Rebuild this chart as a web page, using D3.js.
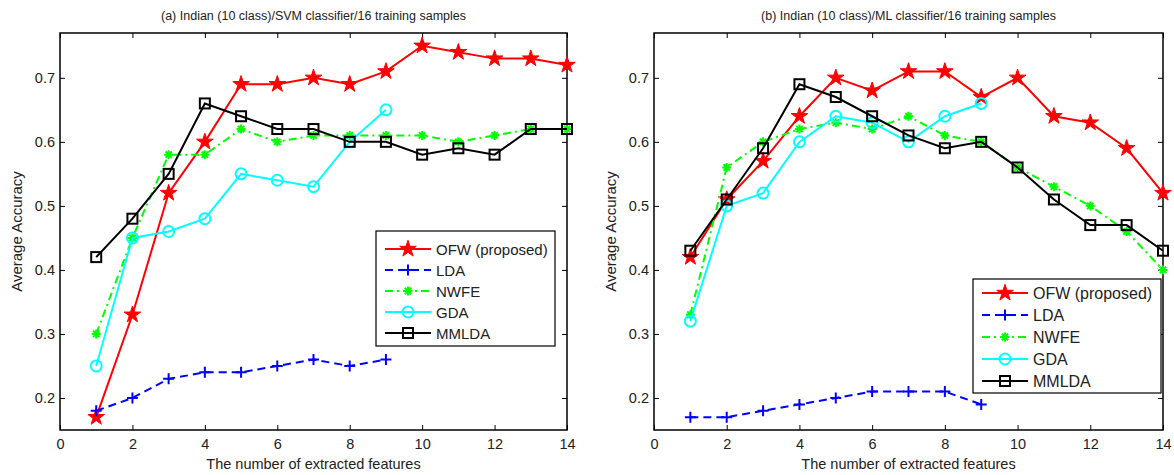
<!DOCTYPE html>
<html><head><meta charset="utf-8">
<script src="https://cdn.jsdelivr.net/npm/d3@7"></script>
<style>body{margin:0;background:#fff}svg{display:block}</style>
</head><body>
<svg id="c" width="1174" height="475"></svg>
<script>
// ---- data ----
const featuresLong = [1,2,3,4,5,6,7,8,9,10,11,12,13,14];
const featuresShort = [1,2,3,4,5,6,7,8,9];
const xTicks = [0,2,4,6,8,10,12,14];
const yTicks = [0.2,0.3,0.4,0.5,0.6,0.7];
const seriesNames = ["OFW (proposed)","LDA","NWFE","GDA","MMLDA"];
const titles = ["(a) Indian (10 class)/SVM classifier/16 training samples",
                "(b) Indian (10 class)/ML classifier/16 training samples"];
const xLabel = "The number of extracted features";
const yLabel = "Average Accuracy";

const svmOFW   = [0.17,0.33,0.52,0.60,0.69,0.69,0.70,0.69,0.71,0.75,0.74,0.73,0.73,0.72];
const svmLDA   = [0.18,0.20,0.23,0.24,0.24,0.25,0.26,0.25,0.26];
const svmNWFE  = [0.30,0.45,0.58,0.58,0.62,0.60,0.61,0.61,0.61,0.61,0.60,0.61,0.62,0.62];
const svmGDA   = [0.25,0.45,0.46,0.48,0.55,0.54,0.53,0.60,0.65];
const svmMMLDA = [0.42,0.48,0.55,0.66,0.64,0.62,0.62,0.60,0.60,0.58,0.59,0.58,0.62,0.62];

const mlOFW    = [0.42,0.51,0.57,0.64,0.70,0.68,0.71,0.71,0.67,0.70,0.64,0.63,0.59,0.52];
const mlLDA    = [0.17,0.17,0.18,0.19,0.20,0.21,0.21,0.21,0.19];
const mlNWFE   = [0.33,0.56,0.60,0.62,0.63,0.62,0.64,0.61,0.60,0.56,0.53,0.50,0.46,0.40];
const mlGDA    = [0.32,0.50,0.52,0.60,0.64,0.63,0.60,0.64,0.66];
const mlMMLDA  = [0.43,0.51,0.59,0.69,0.67,0.64,0.61,0.59,0.60,0.56,0.51,0.47,0.47,0.43];

// ---- styles ----
const styles = [
  {color:"#ff0000", dash:null,      marker:"star"},
  {color:"#0000ff", dash:"8,5",     marker:"plus"},
  {color:"#00ff00", dash:"8,4,2,4", marker:"asterisk"},
  {color:"#00ffff", dash:null,      marker:"circle"},
  {color:"#000000", dash:null,      marker:"square"}
];
const FONT = "'Liberation Sans', Arial, sans-serif";

const panels = [
  {title:titles[0], left:60, right:567, top:33, bottom:430,
   data:[svmOFW,svmLDA,svmNWFE,svmGDA,svmMMLDA],
   legend:{x:376, y:231, w:179, h:115, pitch:21, off:18, font:15}},
  {title:titles[1], left:654, right:1163, top:33, bottom:430,
   data:[mlOFW,mlLDA,mlNWFE,mlGDA,mlMMLDA],
   legend:{x:973, y:279, w:188, h:114, pitch:22, off:14, font:16}}
];

const svg = d3.select("#c");

function drawMarker(g, type, color, cx, cy) {
  if (type === "star") {
    g.append("path").attr("d", d3.symbol(d3.symbolStar, 85)())
      .attr("transform", `translate(${cx},${cy})`)
      .attr("fill", color).attr("stroke", color).attr("stroke-width", 1);
  } else if (type === "plus") {
    g.append("path").attr("d", "M-5.5,0H5.5M0,-5.5V5.5")
      .attr("transform", `translate(${cx},${cy})`)
      .attr("fill", "none").attr("stroke", color).attr("stroke-width", 2);
  } else if (type === "asterisk") {
    g.append("path").attr("d", "M-4.5,0H4.5M0,-4.5V4.5M-3.2,-3.2L3.2,3.2M-3.2,3.2L3.2,-3.2")
      .attr("transform", `translate(${cx},${cy})`)
      .attr("fill", "none").attr("stroke", color).attr("stroke-width", 2);
  } else if (type === "circle") {
    g.append("circle").attr("cx", cx).attr("cy", cy).attr("r", 5.5)
      .attr("fill", "none").attr("stroke", color).attr("stroke-width", 2);
  } else if (type === "square") {
    g.append("rect").attr("x", cx-5).attr("y", cy-5).attr("width", 10).attr("height", 10)
      .attr("fill", "none").attr("stroke", color).attr("stroke-width", 2);
  }
}

panels.forEach(p => {
  const x = d3.scaleLinear().domain([0,14]).range([p.left, p.right]);
  const y = d3.scaleLinear().domain([0.15,0.77]).range([p.bottom, p.top]);
  const g = svg.append("g");

  const ax = g.append("g").attr("transform", `translate(0,${p.bottom})`)
    .call(d3.axisBottom(x).tickValues(xTicks).tickSizeInner(-5).tickSizeOuter(0).tickPadding(9));
  const axT = g.append("g").attr("transform", `translate(0,${p.top})`)
    .call(d3.axisTop(x).tickValues(xTicks).tickSizeInner(-5).tickSizeOuter(0).tickFormat(""));
  const ay = g.append("g").attr("transform", `translate(${p.left},0)`)
    .call(d3.axisLeft(y).tickValues(yTicks).tickSizeInner(-5).tickSizeOuter(0).tickPadding(5).tickFormat(d3.format(".1f")));
  const ayR = g.append("g").attr("transform", `translate(${p.right},0)`)
    .call(d3.axisRight(y).tickValues(yTicks).tickSizeInner(-5).tickSizeOuter(0).tickFormat(""));
  [ax,axT,ay,ayR].forEach(a => {
    a.select(".domain").remove();
    a.selectAll("line").attr("stroke","#000").attr("stroke-width",1);
    a.selectAll("text").attr("font-family",FONT).attr("font-size",14.5).attr("fill","#222");
  });

  g.append("rect").attr("x",p.left).attr("y",p.top)
    .attr("width",p.right-p.left).attr("height",p.bottom-p.top)
    .attr("fill","none").attr("stroke","#000").attr("stroke-width",1.5);

  g.append("text").attr("x",(p.left+p.right)/2).attr("y",20)
    .attr("text-anchor","middle").attr("font-family",FONT).attr("font-size",12.5).attr("fill","#222")
    .text(p.title);
  g.append("text").attr("x",(p.left+p.right)/2).attr("y",469)
    .attr("text-anchor","middle").attr("font-family",FONT).attr("font-size",14.5).attr("fill","#222")
    .text(xLabel);
  g.append("text").attr("transform",`translate(${p.left-38},${(p.top+p.bottom)/2}) rotate(-90)`)
    .attr("text-anchor","middle").attr("font-family",FONT).attr("font-size",15).attr("fill","#222")
    .text(yLabel);

  p.data.forEach((vals, i) => {
    const st = styles[i];
    const xs = vals.length === featuresLong.length ? featuresLong : featuresShort;
    const pts = vals.map((v,k) => [x(xs[k]), y(v)]);
    g.append("path").attr("d", d3.line()(pts))
      .attr("fill","none").attr("stroke",st.color).attr("stroke-width",2)
      .attr("stroke-dasharray", st.dash);
    const mg = g.append("g");
    pts.forEach(pt => drawMarker(mg, st.marker, st.color, pt[0], pt[1]));
  });

  const L = p.legend;
  const lg = g.append("g");
  lg.append("rect").attr("x",L.x).attr("y",L.y).attr("width",L.w).attr("height",L.h)
    .attr("fill","#fff").attr("stroke","#000").attr("stroke-width",1.2);
  seriesNames.forEach((name,i) => {
    const st = styles[i];
    const cy = L.y + L.off + i*L.pitch;
    lg.append("line").attr("x1",L.x+9).attr("x2",L.x+55).attr("y1",cy).attr("y2",cy)
      .attr("stroke",st.color).attr("stroke-width",2).attr("stroke-dasharray",st.dash);
    drawMarker(lg, st.marker, st.color, L.x+32, cy);
    lg.append("text").attr("x",L.x+60).attr("y",cy+5.5)
      .attr("font-family",FONT).attr("font-size",L.font).attr("fill","#222").text(name);
  });
});
</script>
</body></html>
